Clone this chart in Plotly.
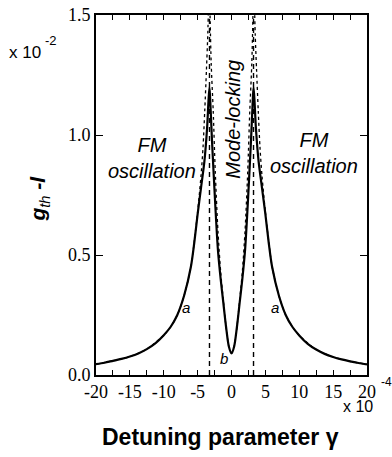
import plotly.graph_objects as go

# gamma in units of 1e-4, g_th - l in units of 1e-2
solid_x = [-20, -18.75, -17.5, -16.25, -15, -13.75, -12.5, -11.25, -10, -9, -8, -7, -6, -5.5, -5, -4.5, -4.0, -3.6, -3.4, -3.25,
           -3.1, -2.9, -2.6, -2.3, -2.0, -1.6, -1.2, -0.8, -0.4, 0,
           0.4, 0.8, 1.2, 1.6, 2.0, 2.3, 2.6, 2.9, 3.1,
           3.25, 3.4, 3.6, 4.0, 4.5, 5, 5.5, 6, 7, 8, 9, 10, 11.25, 12.5, 13.75, 15, 16.25, 17.5, 18.75, 20]
solid_y = [0.045, 0.051, 0.059, 0.067, 0.077, 0.090, 0.108, 0.132, 0.166, 0.20, 0.25, 0.33, 0.45, 0.55, 0.67, 0.78, 0.89, 1.03, 1.14, 1.20,
           1.12, 0.99, 0.82, 0.66, 0.52, 0.40, 0.30, 0.20, 0.12, 0.09,
           0.12, 0.20, 0.30, 0.40, 0.52, 0.66, 0.82, 0.99, 1.12,
           1.20, 1.14, 1.03, 0.89, 0.78, 0.67, 0.55, 0.45, 0.33, 0.25, 0.20, 0.165, 0.130, 0.106, 0.088, 0.075, 0.065, 0.057, 0.050, 0.044]

dot_out_left_x = [-20, -17.5, -15, -12.5, -10, -9, -8, -7, -6, -5.5, -5, -4.5, -4.2, -3.95, -3.7, -3.5, -3.35]
dot_out_left_y = [0.045, 0.059, 0.077, 0.108, 0.166, 0.20, 0.25, 0.33, 0.45, 0.555, 0.68, 0.83, 0.95, 1.10, 1.27, 1.42, 1.60]
dot_in_left_x = [-3.2, -3.0, -2.7, -2.4, -2.0, -1.6, -1.2, -0.8, -0.4, 0]
dot_in_left_y = [1.55, 1.30, 1.10, 0.85, 0.60, 0.43, 0.31, 0.20, 0.12, 0.09]
dot_in_right_x = [0, 0.4, 0.8, 1.2, 1.6, 2.0, 2.4, 2.7, 3.0, 3.2]
dot_in_right_y = [0.09, 0.12, 0.20, 0.31, 0.43, 0.60, 0.85, 1.10, 1.30, 1.55]
dot_out_right_x = [3.35, 3.5, 3.7, 3.95, 4.2, 4.5, 5, 5.5, 6, 7, 8, 9, 10, 12.5, 15, 17.5, 20]
dot_out_right_y = [1.60, 1.42, 1.27, 1.10, 0.95, 0.83, 0.68, 0.555, 0.45, 0.33, 0.25, 0.20, 0.165, 0.106, 0.075, 0.057, 0.044]

boundary_x = [-3.25, 3.25]
y_range = [0, 1.5]

x_tickvals = [-20, -15, -10, -5, 0, 5, 10, 15, 20]
x_ticktext = ["-20", "-15", "-10", "-5", "0", "5", "10", "15", "20"]
y_tickvals = [0, 0.5, 1.0, 1.5]
y_ticktext = ["0.0", "0.5", "1.0", "1.5"]

fig = go.Figure()

for xs, ys in [(dot_out_left_x, dot_out_left_y), (dot_in_left_x, dot_in_left_y),
               (dot_in_right_x, dot_in_right_y), (dot_out_right_x, dot_out_right_y)]:
    fig.add_trace(go.Scatter(x=xs, y=ys, mode="lines",
                             line=dict(color="black", width=1.3, dash="dot", shape="spline", smoothing=0.8),
                             showlegend=False, hoverinfo="skip"))

for bx in boundary_x:
    fig.add_trace(go.Scatter(x=[bx, bx], y=y_range, mode="lines",
                             line=dict(color="black", width=1.4, dash="5px,4px"),
                             showlegend=False, hoverinfo="skip"))

fig.add_trace(go.Scatter(x=solid_x, y=solid_y, mode="lines",
                         line=dict(color="black", width=2.2, shape="spline", smoothing=0.8),
                         showlegend=False, hoverinfo="skip"))

serif = "Liberation Serif, Times New Roman, serif"
sans = "Liberation Sans, Arial, sans-serif"

fig.update_layout(
    width=392, height=457,
    margin=dict(l=96, r=25, t=15, b=82),
    paper_bgcolor="white", plot_bgcolor="white",
    xaxis=dict(range=[-20, 20], tickvals=x_tickvals, ticktext=x_ticktext, automargin=False,
               ticks="inside", ticklen=5, tickwidth=1.2, tickcolor="black",
               minor=dict(ticks="inside", dtick=2.5, tick0=0, ticklen=5, tickwidth=1.2, tickcolor="black"),
               showline=True, linecolor="black", linewidth=1.6, mirror="ticks",
               showgrid=False, zeroline=False,
               tickfont=dict(family=serif, size=18, color="black")),
    yaxis=dict(range=[0, 1.5], tickvals=y_tickvals, ticktext=y_ticktext, automargin=False,
               ticks="inside", ticklen=7, tickwidth=1.2, tickcolor="black",
               showline=True, linecolor="black", linewidth=1.6, mirror="ticks",
               showgrid=False, zeroline=False,
               tickfont=dict(family=serif, size=18, color="black")),
)


def px_x(p):
    return (p - 96) / 271.0


def px_y(p):
    return (375 - p) / 360.0


ann = []
ann.append(dict(text="<b><i>g</i></b><sub><i>th</i></sub><b><i> -l</i></b>", x=px_x(39), y=0.49,
                xref="paper", yref="paper", xanchor="center", yanchor="middle",
                showarrow=False, textangle=-90,
                font=dict(family=sans, size=21, color="black")))
ann.append(dict(text="<b>Detuning parameter γ</b>", x=px_x(220), y=px_y(437), xref="paper", yref="paper",
                xanchor="center", yanchor="middle",
                showarrow=False, font=dict(family=sans, size=23, color="black")))
# multiplier labels
ann.append(dict(text="x 10", x=px_x(7), y=px_y(53), xref="paper", yref="paper",
                xanchor="left", yanchor="middle", showarrow=False,
                font=dict(family=sans, size=17, color="black")))
ann.append(dict(text="-2", x=px_x(43), y=px_y(41), xref="paper", yref="paper",
                xanchor="left", yanchor="middle", showarrow=False,
                font=dict(family=sans, size=13, color="black")))
ann.append(dict(text="x 10", x=px_x(341), y=px_y(407), xref="paper", yref="paper",
                xanchor="left", yanchor="middle", showarrow=False,
                font=dict(family=sans, size=16, color="black")))
ann.append(dict(text="-4", x=px_x(379), y=px_y(382), xref="paper", yref="paper",
                xanchor="left", yanchor="middle", showarrow=False,
                font=dict(family=sans, size=12, color="black")))
ann.append(dict(text="<i>FM</i><br><i>oscillation</i>", x=-11.7, y=0.905, xref="x", yref="y",
                showarrow=False, font=dict(family=sans, size=20, color="black")))
ann.append(dict(text="<i>FM</i><br><i>oscillation</i>", x=12.2, y=0.925, xref="x", yref="y",
                showarrow=False, font=dict(family=sans, size=20, color="black")))
ann.append(dict(text="<i>Mode-locking</i>", x=0.2, y=1.067, xref="x", yref="y", textangle=-90,
                showarrow=False, font=dict(family=sans, size=20, color="black")))
for tx, ty, t in [(-6.7, 0.28, "a"), (6.4, 0.28, "a"), (-1.1, 0.07, "b")]:
    ann.append(dict(text="<i>%s</i>" % t, x=tx, y=ty, xref="x", yref="y", showarrow=False,
                    font=dict(family=sans, size=15, color="black")))
fig.update_layout(annotations=ann)

fig.write_html("out.html", config={"displayModeBar": False},
               post_script="document.body.style.margin='0';document.body.style.overflow='hidden';")
